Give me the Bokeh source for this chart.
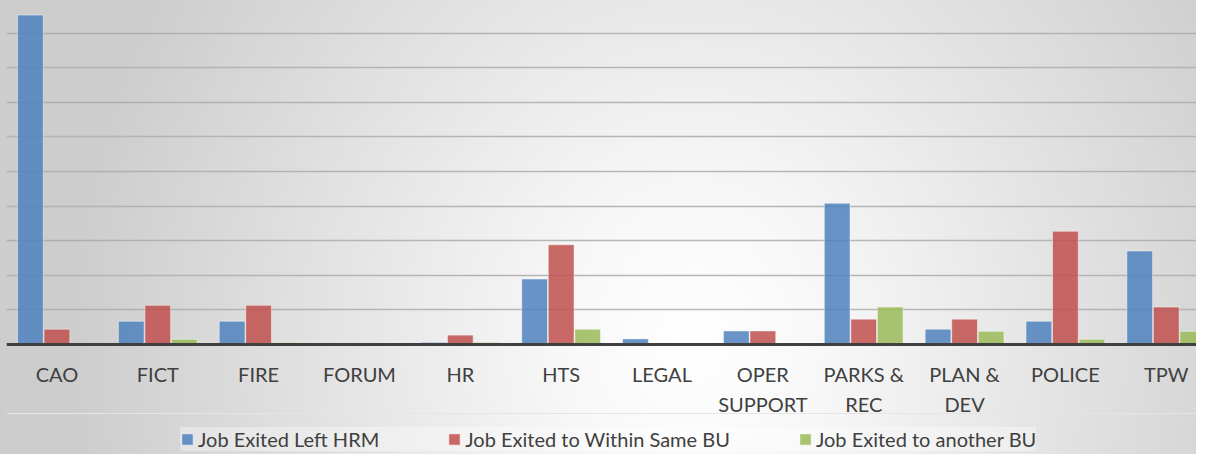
from bokeh.plotting import figure
from bokeh.models import Range1d, Grid, FixedTicker, Legend, LegendItem, ColumnDataSource
from bokeh.transform import dodge
from bokeh.embed import file_html
from bokeh.resources import INLINE

categories = ["CAO", "FICT", "FIRE", "FORUM", "HR", "HTS", "LEGAL", "OPER\nSUPPORT",
              "PARKS &\nREC", "PLAN &\nDEV", "POLICE", "TPW"]
left_hrm = [95.2, 6.7, 6.7, 0, 0.6, 18.9, 1.6, 3.9, 40.8, 4.4, 6.7, 27.0]
within_bu = [4.4, 11.3, 11.3, 0, 2.7, 28.8, 0, 3.9, 7.3, 7.3, 32.7, 10.8]
another_bu = [0, 1.5, 0.6, 0, 0.6, 4.4, 0, 0, 10.8, 3.8, 1.5, 3.8]
gridlines = [10, 20, 30, 40, 50, 60, 70, 80, 90]
series_names = ["Job Exited Left HRM", "Job Exited to Within Same BU", "Job Exited to another BU"]
colors = ["#4F81BD", "#C0504D", "#9BBB59"]

xpos = [i + 0.5 for i in range(len(categories))]
source = ColumnDataSource(dict(x=xpos, a=left_hrm, b=within_bu, c=another_bu))

FONT = "Lato"
TEXT = "#404040"

p = figure(width=1196, height=454, output_backend="svg", toolbar_location=None,
           x_range=Range1d(0, 11.80), y_range=Range1d(-31.8, 99.4),
           y_axis_location=None, min_border_left=6, min_border_right=0, min_border_top=0,
           min_border_bottom=0,
           styles={"background": "radial-gradient(ellipse 52% 150% at 58% 75%, #FFFFFF 0%, #F8F8F8 20%, #E8E8E8 50%, #CDCDCD 100%)"})
p.background_fill_color = None
p.border_fill_color = None
p.outline_line_color = None
p.xgrid.visible = False

p.add_layout(Grid(dimension=1, ticker=FixedTicker(ticks=gridlines),
                  grid_line_color="#A8A8A8", grid_line_width=1.5, grid_line_alpha=0.8))

renderers = []
for col, off, color in zip(["a", "b", "c"], [-0.263, 0.0, 0.263], colors):
    r = p.vbar(x=dodge("x", off), top=col, width=0.255, source=source,
               fill_color=color, fill_alpha=0.85, line_color="white", line_alpha=0.45, line_width=1)
    renderers.append(r)

ax = p.xaxis[0]
ax.fixed_location = 0
ax.ticker = FixedTicker(ticks=xpos)
ax.major_label_overrides = {x: c for x, c in zip(xpos, categories)}
ax.axis_line_color = "#404040"
ax.axis_line_width = 3
ax.major_tick_line_color = None
ax.minor_tick_line_color = None
ax.major_tick_out = 0
ax.major_tick_in = 0
ax.major_label_standoff = 18
ax.major_label_text_font = FONT
ax.major_label_text_font_size = "20px"
ax.major_label_text_color = TEXT
ax.major_label_text_line_height = 1.22

legend = Legend(items=[LegendItem(label=n, renderers=[r]) for n, r in zip(series_names, renderers)],
                orientation="horizontal", location=(174, 3), padding=12, margin=0, spacing=68,
                label_standoff=4, glyph_width=14, glyph_height=14,
                label_text_font=FONT, label_text_font_size="20px", label_text_color=TEXT,
                background_fill_color="white", background_fill_alpha=0.35,
                border_line_color=None)
p.add_layout(legend, "center")

open("out.html", "w").write(file_html(p, INLINE))
